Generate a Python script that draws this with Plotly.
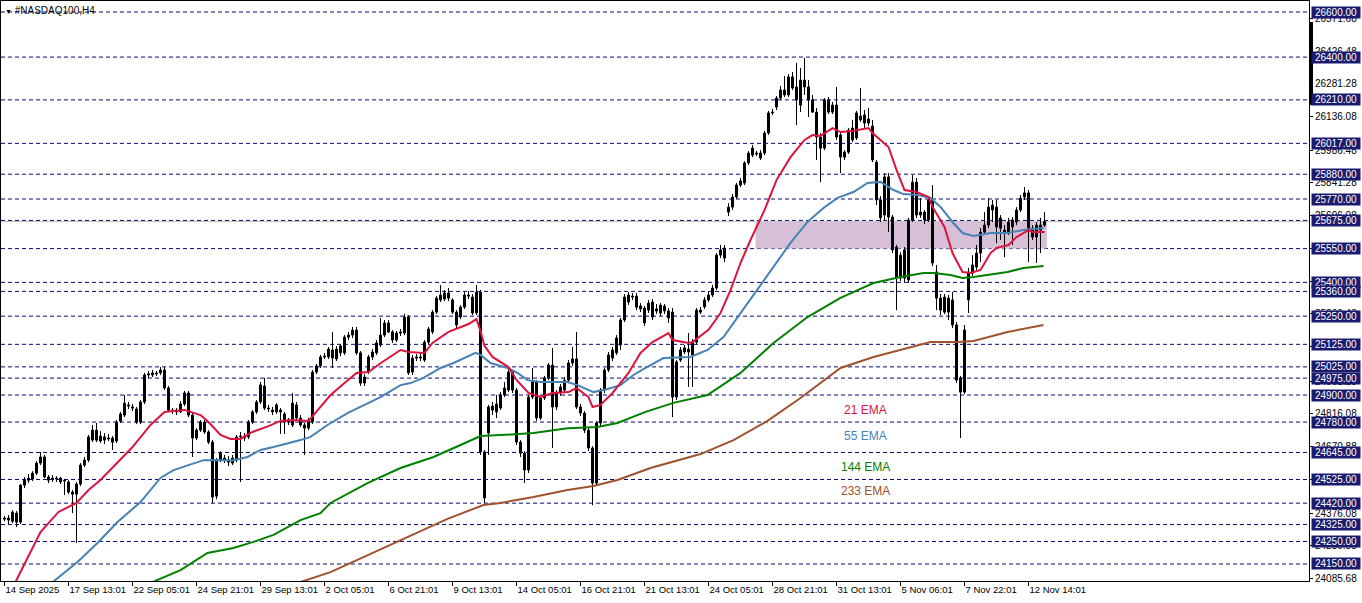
import plotly.graph_objects as go

# ---------------- data (H4 candles, #NASDAQ100) ----------------
opens = [24349,24345,24340,24376,24336,24500,24522,24527,24553,24598,24625,24536,24527,24531,24531,24518,24514,24469,24460,24505,
         24589,24611,24700,24744,24718,24714,24709,24709,24696,24784,24811,24856,24847,24838,24780,24869,24989,24989,24994,24998,
         25011,24931,24833,24829,24825,24860,24909,24811,24709,24744,24780,24736,24691,24451,24611,24620,24611,24620,24611,24714,
         24718,24714,24780,24825,24869,24940,24842,24833,24825,24833,24816,24789,24767,24856,24798,24767,24753,24780,25002,25029,
         25069,25069,25064,25104,25087,25087,25157,25166,25188,25087,24953,25002,25069,25087,25122,25166,25220,25180,25144,25175,
         25175,25246,25002,25064,25069,25055,25135,25180,25268,25322,25326,25353,25322,25268,25246,25290,25344,25335,25264,25357,
         24647,24731,24833,24825,24842,24900,24922,25002,24922,24691,24642,24567,24891,24958,24798,24887,24976,25033,24847,24909,
         24922,24966,25042,25060,24847,24820,24744,24665,24509,24776,24922,25011,25064,25087,25122,25233,25344,25335,25339,25295,
         25286,25277,25313,25273,25264,25273,25273,25268,24891,25055,25091,25104,25078,25135,25268,25291,25322,25344,25375,25521,
         25552,25712,25734,25779,25832,25841,25930,25996,25970,25974,25974,26063,26152,26178,26218,26254,26232,26312,26267,26187,
         26298,26267,26210,26156,26045,25996,26210,26156,26187,26054,25956,25978,26085,26041,26121,26143,26107,26094,25934,25766,
         25699,25868,25690,25557,25419,25544,25410,25677,25845,25712,25712,25677,25766,25446,25330,25268,25330,25322,25211,24976,
         24913,25322,25441,25468,25530,25623,25654,25721,25734,25686,25632,25623,25677,25668,25721,25779,25797,25641,25601,25632,
         25654]
highs = [24363,24367,24389,24385,24505,24536,24549,24562,24607,24647,24634,24545,24545,24540,24536,24527,24522,24478,24514,24598,
         24625,24723,24767,24776,24740,24731,24727,24718,24789,24825,24900,24869,24860,24847,24878,24998,25007,25011,25007,25024,
         25024,24940,24842,24842,24873,24918,24918,24820,24753,24789,24789,24744,24700,24620,24651,24634,24629,24634,24723,24736,
         24731,24789,24833,24878,24958,24976,24856,24847,24864,24842,24825,24798,24909,24869,24811,24776,24798,25011,25038,25078,
         25087,25113,25180,25117,25126,25166,25180,25202,25202,25095,24993,25078,25104,25144,25242,25233,25233,25188,25184,25193,
         25260,25255,25078,25082,25087,25144,25202,25277,25339,25388,25366,25375,25330,25277,25299,25357,25362,25348,25388,25366,
         24656,24856,24869,24900,24913,24958,25020,25011,24931,24700,24651,24900,25020,24966,24896,24985,25042,25109,24922,24949,
         24980,25055,25113,25180,24860,24829,24753,24673,24784,24931,25020,25091,25113,25166,25242,25348,25357,25353,25353,25308,
         25295,25322,25326,25304,25308,25304,25286,25286,25055,25113,25122,25175,25149,25286,25291,25335,25357,25388,25530,25566,
         25566,25752,25792,25841,25863,25938,25983,26010,25983,25987,26072,26161,26170,26227,26272,26316,26325,26334,26374,26352,
         26396,26298,26232,26174,26063,26218,26223,26201,26267,26063,25987,26085,26121,26161,26263,26165,26174,26121,25943,25783,
         25885,25885,25699,25566,25534,25557,25686,25876,25863,25774,25721,25783,25832,25477,25348,25348,25344,25357,25224,24985,
         25211,25464,25521,25566,25641,25712,25774,25766,25766,25699,25654,25686,25690,25734,25788,25823,25810,25654,25668,25686,
         25712]
lows = [24340,24327,24331,24314,24327,24487,24509,24518,24545,24589,24531,24509,24514,24514,24505,24456,24460,24376,24243,24496,
        24580,24602,24691,24691,24687,24682,24696,24656,24687,24776,24802,24838,24829,24771,24771,24860,24976,24980,24985,24989,
        24922,24824,24816,24811,24820,24851,24802,24625,24700,24736,24727,24682,24420,24438,24602,24598,24585,24589,24602,24514,
        24696,24705,24771,24816,24860,24833,24825,24811,24816,24727,24727,24767,24758,24789,24758,24634,24744,24771,24993,25020,
        25060,25060,25020,25051,25073,25078,25144,25153,25078,24940,24940,24993,25055,25078,25113,25157,25175,25131,25135,25162,
        25166,24989,24989,25051,25051,25047,25126,25171,25260,25313,25317,25317,25260,25197,25237,25282,25326,25255,25255,24634,
        24420,24634,24811,24798,24833,24891,24913,24909,24678,24625,24509,24554,24882,24785,24789,24878,24966,24665,24833,24896,
        24913,24953,25029,24838,24807,24731,24651,24411,24496,24762,24909,25002,25051,25078,25100,25224,25300,25322,25277,25268,
        25206,25264,25233,25260,25251,25260,25220,24802,24878,25047,25082,24936,24936,25126,25259,25282,25313,25335,25366,25508,
        25490,25694,25721,25770,25823,25832,25921,25956,25961,25943,25965,26054,26143,26165,26209,26223,26223,26254,26098,26156,
        26232,26134,26152,25943,25845,25987,26147,26147,26032,25885,25943,25970,26023,26032,26112,26085,26094,25934,25743,25668,
        25677,25623,25530,25277,25406,25402,25397,25668,25686,25686,25659,25668,25472,25277,25255,25259,25233,25197,24953,24709,
        24904,25264,25428,25455,25490,25610,25641,25668,25574,25588,25512,25610,25566,25654,25712,25766,25490,25588,25486,25530,
        25646]
closes = [24354,24354,24380,24336,24500,24522,24531,24553,24598,24625,24536,24522,24531,24527,24514,24522,24469,24460,24505,24589,
          24611,24714,24744,24700,24696,24700,24705,24691,24780,24816,24864,24851,24842,24780,24869,24989,24994,24998,24998,25011,
          24931,24833,24829,24825,24860,24909,24811,24709,24744,24780,24736,24691,24447,24611,24642,24611,24602,24598,24714,24718,
          24709,24780,24825,24869,24945,24842,24838,24825,24856,24825,24780,24780,24864,24798,24767,24753,24789,25002,25029,25069,
          25073,25104,25100,25060,25118,25157,25166,25188,25087,24953,24980,25069,25091,25131,25166,25220,25180,25144,25175,25180,
          25246,24998,25064,25069,25064,25135,25193,25268,25330,25344,25353,25330,25268,25211,25290,25344,25339,25264,25357,24647,
          24443,24847,24851,24860,24900,24931,25002,24922,24691,24642,24567,24891,24958,24798,24887,24976,25033,24847,24909,24936,
          24966,25042,25060,24847,24820,24744,24665,24509,24776,24922,25011,25078,25100,25153,25233,25335,25313,25339,25290,25282,
          25220,25308,25246,25282,25299,25295,25242,24891,25047,25100,25109,25091,25135,25277,25277,25322,25344,25375,25521,25544,
          25508,25734,25779,25832,25850,25930,25974,25965,25974,25952,26063,26152,26156,26218,26254,26232,26312,26263,26210,26298,
          26267,26210,26156,26045,25996,26210,26156,26187,26045,25956,25978,26076,26032,26152,26138,26107,26125,25943,25766,25686,
          25868,25690,25544,25419,25521,25419,25677,25845,25699,25699,25677,25766,25486,25330,25277,25335,25268,25211,24966,24913,
          25189,25446,25477,25530,25623,25654,25734,25743,25646,25641,25619,25668,25646,25721,25774,25797,25641,25601,25654,25654,
          25670]

# EMA readings (bar position, price)
ema21_bar = [0, 3, 9, 13.5, 18, 21, 24, 28, 32, 36.5, 40, 42, 45, 49, 51, 54, 56.5, 59, 62, 66, 69, 72, 76, 79, 81.5, 85, 88,
             91, 94, 99, 101, 105, 107, 111, 113, 116, 118, 119, 120, 122, 126, 128, 131, 134, 137, 141, 143, 146, 147, 149, 152,
             156, 159, 162, 166, 167, 171, 172, 176, 179, 181.5, 184, 186.5, 190, 193, 196.5, 200, 202, 204, 207, 209, 212, 216,
             217, 221, 223, 225, 228, 231, 232, 235, 237, 239.5, 241.5, 244, 246.5, 248, 251, 253, 256, 257, 260]
ema21_val = [23986, 24079, 24292, 24381, 24421, 24478, 24523, 24598, 24669, 24767, 24825, 24829, 24834, 24811, 24780, 24723,
             24705, 24705, 24736, 24762, 24785, 24789, 24785, 24847, 24900, 24953, 24998, 25002, 25041, 25100, 25091, 25087,
             25131, 25180, 25193, 25215, 25237, 25184, 25118, 25069, 25024, 24967, 24909, 24891, 24909, 24913, 24931, 24891,
             24847, 24856, 24909, 24998, 25087, 25135, 25175, 25144, 25131, 25135, 25189, 25264, 25366, 25486, 25588, 25721,
             25854, 25956, 26032, 26054, 26050, 26085, 26067, 26072, 26085, 26063, 26001, 25899, 25810, 25801, 25779, 25735,
             25646, 25530, 25446, 25442, 25455, 25530, 25553, 25566, 25601, 25632, 25624, 25624]
ema55_bar = [5, 12.75, 18.25, 23.25, 28.25, 34, 39, 42.25, 45.75, 49.75, 52.25, 57.25, 60.75, 64, 67.25, 72.25, 74, 76.5, 79,
             80.75, 85.75, 89, 94, 99, 101.5, 104.75, 109, 112.25, 115.75, 117.75, 119, 121.5, 125.75, 128.25, 130.75, 134,
             140.75, 143.25, 147.25, 150.75, 154, 157.25, 160.25, 164.75, 171.5, 175.75, 179.75, 184, 188.25, 192.25, 196.5,
             200.75, 204.75, 208.25, 212.25, 215.75, 219, 222.25, 224.75, 228.25, 231.5, 234, 237, 239.5, 242.25, 246.5,
             250.75, 254.75, 259.75]
ema55_val = [23968, 24079, 24159, 24243, 24336, 24425, 24532, 24567, 24589, 24611, 24611, 24611, 24625, 24656, 24669, 24691,
             24700, 24714, 24745, 24767, 24820, 24847, 24891, 24944, 24953, 24976, 25020, 25042, 25069, 25087, 25078, 25042,
             25020, 24998, 24966, 24958, 24958, 24944, 24913, 24927, 24944, 24989, 25020, 25064, 25069, 25100, 25157, 25264,
             25366, 25468, 25575, 25668, 25730, 25775, 25801, 25841, 25846, 25810, 25792, 25788, 25775, 25735, 25668, 25619,
             25606, 25619, 25619, 25632, 25641]
ema144_bar = [36.5, 38.25, 44, 50.75, 57.25, 62.25, 67.25, 74, 79, 81.5, 90.75, 99, 107.25, 114, 119, 124, 132.25, 140.75,
              148.25, 153.25, 157.25, 160.25, 167.25, 175.75, 184, 192.25, 200.75, 209, 217.25, 224, 229.75, 232.25, 236.5,
              239.5, 242.25, 250.75, 254.75, 259.75]
ema144_val = [24066, 24079, 24123, 24199, 24221, 24248, 24279, 24345, 24376, 24421, 24509, 24576, 24625, 24678, 24718, 24722,
              24731, 24753, 24758, 24776, 24802, 24825, 24865, 24900, 24998, 25131, 25246, 25331, 25397, 25424, 25442, 25442,
              25433, 25419, 25424, 25446, 25464, 25473]
ema233_bar = [71.5, 74, 81.5, 86.5, 99, 110.75, 119.75, 124, 132.25, 140.75, 147.25, 153.25, 161.5, 174, 182.25, 190.75, 199,
              209, 217.25, 225.75, 231.5, 238.25, 242.25, 250.75, 259.75]
ema233_val = [24052, 24070, 24114, 24154, 24257, 24350, 24412, 24421, 24447, 24478, 24496, 24523, 24576, 24638, 24700, 24785,
              24887, 25020, 25069, 25109, 25135, 25135, 25140, 25180, 25211]

time_labels = ["14 Sep 2025", "17 Sep 13:01", "22 Sep 05:01", "24 Sep 21:01", "29 Sep 13:01", "2 Oct 05:01",
               "6 Oct 21:01", "9 Oct 13:01", "14 Oct 05:01", "16 Oct 21:01", "21 Oct 13:01", "24 Oct 05:01",
               "28 Oct 21:01", "31 Oct 13:01", "5 Nov 06:01", "7 Nov 22:01", "12 Nov 14:01"]
bars_per_label = 16

levels = [26600, 26400, 26210, 26017, 25880, 25770, 25675, 25550, 25400, 25360, 25250, 25125, 25025, 24975,
          24900, 24780, 24645, 24525, 24420, 24325, 24250, 24150]
price_ticks = [26571.68, 26426.48, 26281.28, 26136.08, 25986.48, 25841.28, 25696.08, 25550.88, 25405.68, 25260.48,
               25115.28, 24961.28, 24816.08, 24670.88, 24525.68, 24376.08, 24230.88, 24085.68]
bid_price = 25670
zone_low, zone_high = 25550, 25670
zone_start_bar, zone_end_bar = 187.75, 260.6

ema_names = ["21 EMA", "55 EMA", "144 EMA", "233 EMA"]
ema_colors = ["#DC143C", "#4682B4", "#008000", "#A0522D"]
ema_label_prices = [24834, 24718, 24581, 24474]
ema_label_bar = 215.3

# ---------------- figure ----------------
n = len(opens)
idx = list(range(n))
bull = [i for i in idx if closes[i] >= opens[i]]
bear = [i for i in idx if closes[i] < opens[i]]

wx, wy = [], []
for i in idx:
    wx += [i, i, None]
    wy += [lows[i], highs[i], None]

fig = go.Figure()
fig.add_trace(go.Scatter(x=wx, y=wy, mode="lines", line=dict(color="black", width=1), hoverinfo="skip"))
fig.add_trace(go.Bar(x=bull, base=[opens[i] for i in bull], y=[closes[i] - opens[i] for i in bull], width=0.5,
                     marker=dict(color="white", line=dict(color="black", width=1))))
fig.add_trace(go.Bar(x=bear, base=[opens[i] for i in bear], y=[closes[i] - opens[i] for i in bear], width=0.5,
                     marker=dict(color="black", line=dict(color="black", width=1))))

for bx, vy, col in [(ema233_bar, ema233_val, ema_colors[3]), (ema144_bar, ema144_val, ema_colors[2]),
                    (ema55_bar, ema55_val, ema_colors[1]), (ema21_bar, ema21_val, ema_colors[0])]:
    fig.add_trace(go.Scatter(x=bx, y=vy, mode="lines", line=dict(color=col, width=2), hoverinfo="skip"))

shapes = []
shapes.append(dict(type="rect", xref="x", yref="y", x0=zone_start_bar, x1=zone_end_bar, y0=zone_low, y1=zone_high,
                   fillcolor="#D8BFD8", line=dict(width=0), layer="below"))
shapes.append(dict(type="line", xref="paper", yref="y", x0=0, x1=1, y0=bid_price, y1=bid_price,
                   line=dict(color="#C0C0C0", width=1), layer="below"))
for lv in levels:
    shapes.append(dict(type="line", xref="paper", yref="y", x0=0, x1=1, y0=lv, y1=lv,
                       line=dict(color="#0a0a78", width=1, dash="4px,3px"), layer="below"))
shapes.append(dict(type="rect", xref="paper", yref="y", xsizemode="pixel", xanchor=1, x0=1, x1=4,
                   y0=26187, y1=26556, fillcolor="black", line=dict(width=0)))

annotations = []
annotations.append(dict(xref="paper", yref="paper", x=0, y=1, xanchor="left", yanchor="top", xshift=2, yshift=-2,
                        text="<span style='font-size:7px'>▼</span> #NASDAQ100,H4", showarrow=False,
                        font=dict(family="Liberation Sans", size=10, color="black")))
for lv in levels:
    annotations.append(dict(xref="paper", yref="y", x=1, y=lv, xanchor="left", yanchor="middle", xshift=2,
                            text=f"{lv:.2f}", showarrow=False, bgcolor="#1a1a6e", borderpad=0, width=48, height=11,
                            font=dict(family="Liberation Sans", size=10, color="white")))
for name, col, pv in zip(ema_names, ema_colors, ema_label_prices):
    annotations.append(dict(xref="x", yref="y", x=ema_label_bar, y=pv, text=name, showarrow=False,
                            font=dict(family="Liberation Sans", size=12, color=col)))

fig.update_layout(
    width=1362, height=603,
    margin=dict(l=1, r=53, t=1, b=22, pad=0),
    paper_bgcolor="white", plot_bgcolor="white",
    showlegend=False, barmode="overlay",
    font=dict(family="Liberation Sans", size=10, color="black"),
    shapes=shapes, annotations=annotations,
    xaxis=dict(range=[-0.875, 326.125], showgrid=False, zeroline=False, showline=True, mirror=True,
               linecolor="black", linewidth=1, ticks="outside", ticklen=4, tickcolor="black",
               tickvals=list(range(0, bars_per_label * len(time_labels), bars_per_label)), ticktext=time_labels,
               ticklabelposition="outside right", tickangle=0, automargin=False, tickfont=dict(size=9.5)),
    yaxis=dict(side="right", range=[24074.5, 26648.9], showgrid=False, zeroline=False, showline=True, mirror=True,
               linecolor="black", linewidth=1, ticks="outside", ticklen=3, tickcolor="black",
               tickvals=price_ticks, ticktext=[f"{v:.2f}" for v in price_ticks], automargin=False,
               tickfont=dict(size=10)),
)

fig.write_html("out.html", config={"displayModeBar": False},
               post_script="document.body.style.margin='0';document.body.style.overflow='hidden';")
